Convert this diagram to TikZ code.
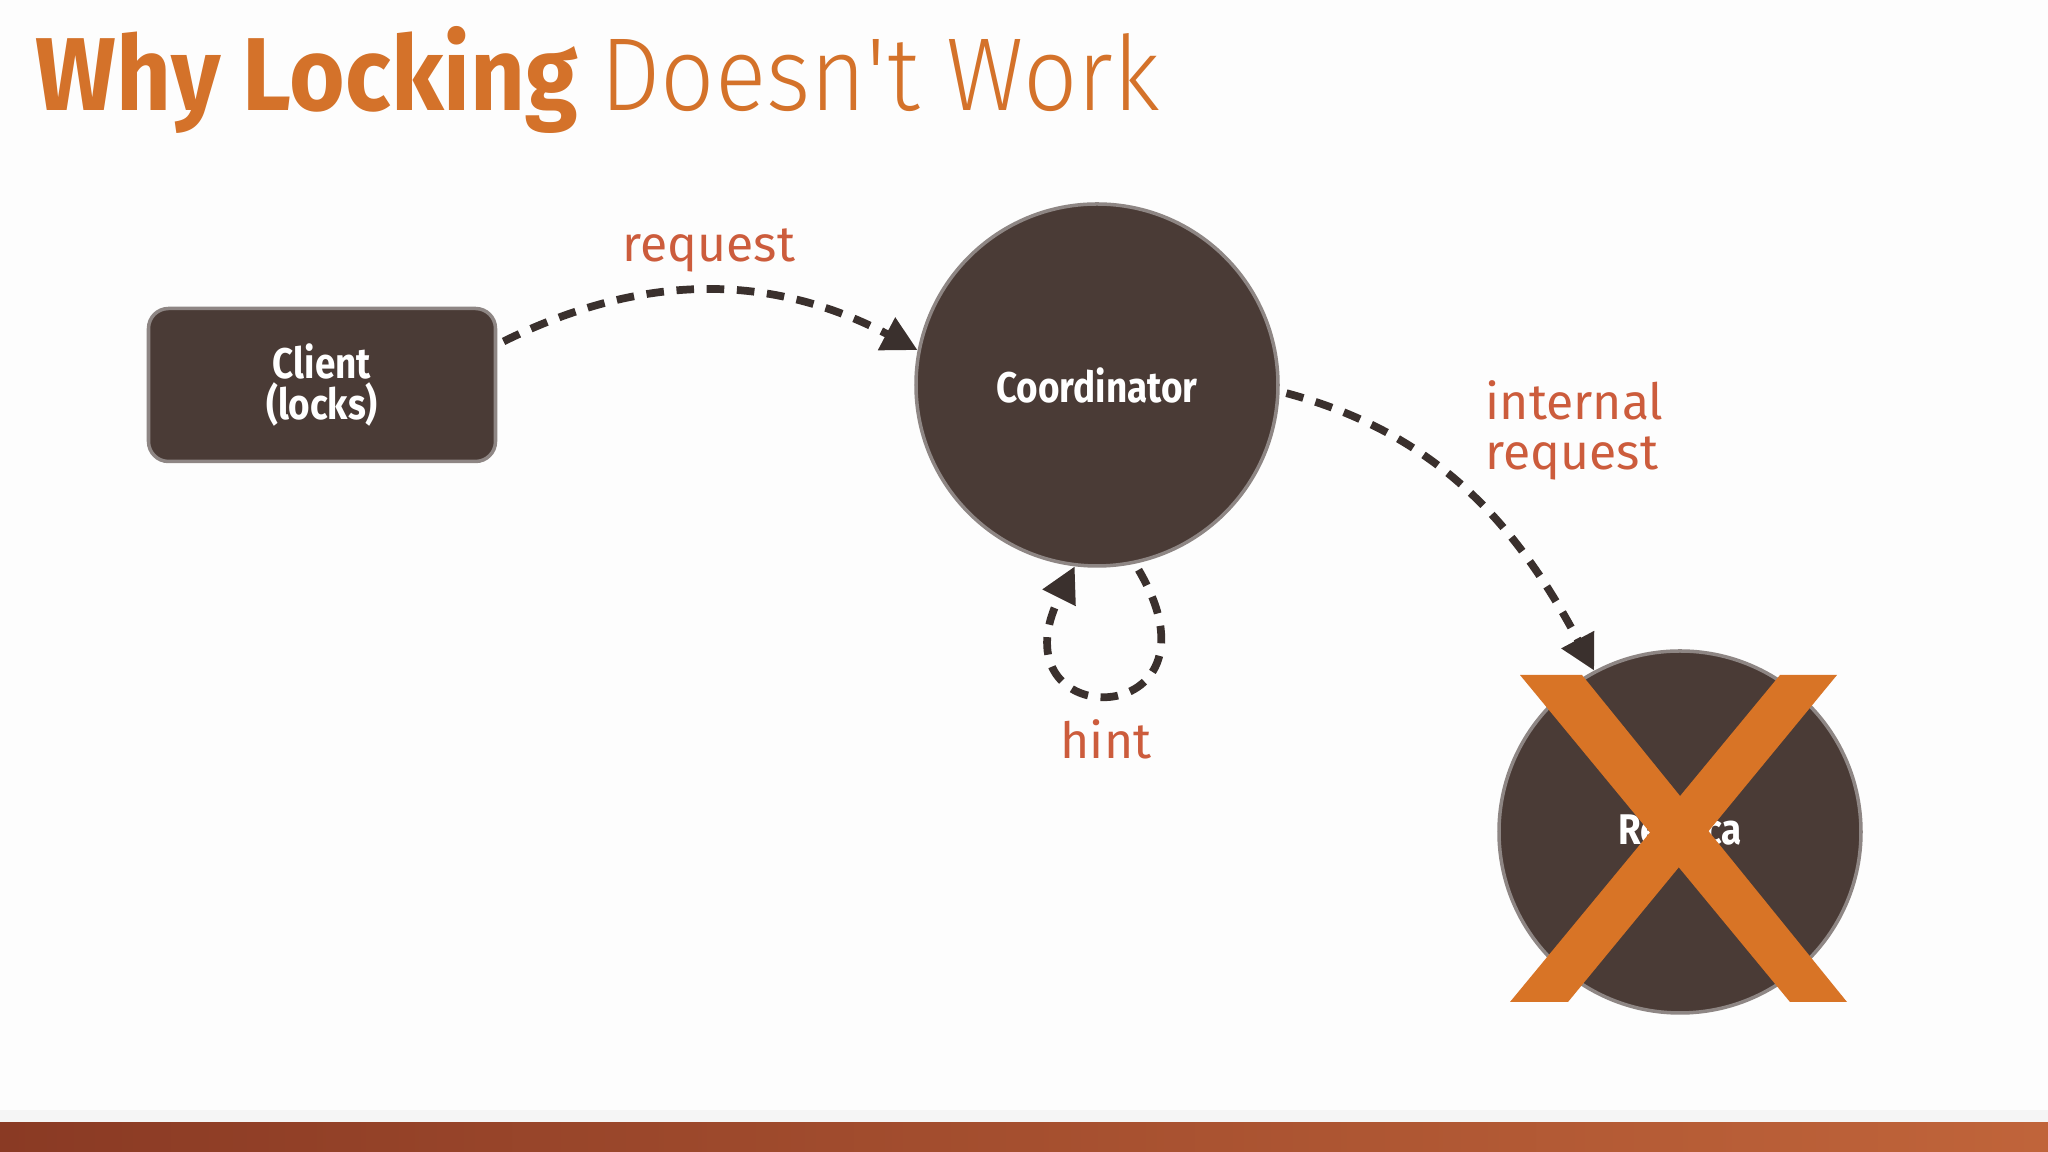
\documentclass[tikz,border=0pt]{standalone}
\usepackage{fontspec}
\setmainfont{Fira Sans}
\newfontfamily\titlebold[FakeStretch=0.92]{Fira Sans Bold}
\newfontfamily\titlelight[FakeStretch=0.92]{Fira Sans Light}
\newfontfamily\nodefont[FakeStretch=0.86]{Fira Sans Bold}
\usetikzlibrary{positioning}
\usetikzlibrary{arrows.meta}

\definecolor{pagewhite}{HTML}{FDFDFD}
\definecolor{slideorange}{HTML}{D4722A}
\definecolor{labelred}{HTML}{CC5C3C}
\definecolor{nodebrown}{HTML}{4A3B36}
\definecolor{nodeedge}{HTML}{8E8684}
\definecolor{arrowdark}{HTML}{3A302D}
\definecolor{crossorange}{HTML}{D87426}
\definecolor{woodleft}{HTML}{8A3A24}
\definecolor{woodmid}{HTML}{9C4429}
\definecolor{woodright}{HTML}{C0643A}

\begin{document}
\begin{tikzpicture}[>={Triangle[length=10pt,width=10pt]},node distance=7.75cm,
	main node/.style={circle,draw=nodeedge,line width=1pt,fill=nodebrown,minimum size=3.62cm,
		text=white,font=\nodefont\fontsize{12.2}{12}\selectfont},
	box node/.style={rectangle,rounded corners=0.2cm,draw=nodeedge,line width=1pt,fill=nodebrown,
		minimum width=3.47cm,minimum height=1.53cm,text=white,align=center,
		font=\nodefont\fontsize{12.2}{10}\selectfont},
	msg/.style={draw=arrowdark,line width=2.2pt,dash pattern=on 5pt off 3.6pt,->,shorten <=2pt},
	msg label/.style={inner sep=0pt,text=labelred,font=\fontsize{14.2}{14.2}\selectfont}]

	\useasboundingbox[fill=pagewhite] (0,0) rectangle (20.48,11.52);

	% bottom strip
	\fill[black!4] (0,0.29) rectangle (20.48,0.42);
	\shade[left color=woodleft,middle color=woodmid,right color=woodright] (0,0) rectangle (20.48,0.29);

	% title
	\node[anchor=base west,inner sep=0pt,text=slideorange] (title) at (0.35,10.41)
		{\fontsize{29.5}{30}\selectfont\titlebold Why Locking \titlelight Doesn\textquotesingle t Work};

	\node[box node] (client) at (3.22,7.67) {Client\\(locks)};
	\node[main node] (coord) [right of=client] {Coordinator};
	\node[main node] (replica) at (16.80,3.20) {Replica};

	% the cross over the replica
	\fill[crossorange] (15.20,4.77) -- (15.82,4.77) -- (18.47,1.50) -- (17.90,1.50) -- cycle;
	\fill[crossorange] (17.80,4.77) -- (18.37,4.77) -- (15.68,1.50) -- (15.10,1.50) -- cycle;

	\draw[msg] (client.13) to[bend left=27] (coord.169);
	\draw[msg] (coord.-2) to[out=-15,in=118] (replica.118);
	\draw[msg] (coord.-78) .. controls +(1.0,-1.7) and +(-0.85,-1.7) .. (coord.-97);

	\node[msg label] (reqlabel) at (7.09,9.02) {request};
	\node[msg label,anchor=west,align=left] (intlabel) at (14.85,7.22) {internal\\request};
	\node[msg label] (hintlabel) at (11.06,4.13) {hint};
\end{tikzpicture}
\end{document}
